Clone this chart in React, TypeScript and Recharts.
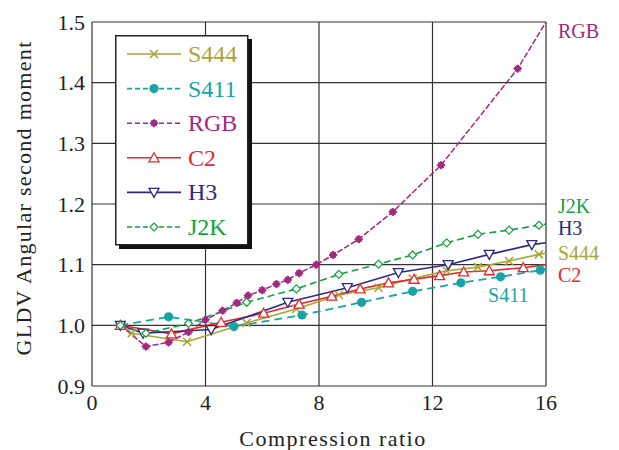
import React from 'react';
import { LineChart, Line, XAxis, YAxis, CartesianGrid, Legend, ReferenceDot } from 'recharts';

// axis ticks
const xTicks = [0, 4, 8, 12, 16];
const yTicks = [0.9, 1.0, 1.1, 1.2, 1.3, 1.4, 1.5];

// series values (x = compression ratio)
const s444X = [1, 1.4, 3.35, 5.45, 7.2, 8.7, 10.1, 11.3, 12.5, 13.6, 14.7, 15.75, 16];
const s444Y = [1.0, 0.987, 0.973, 1.004, 1.027, 1.05, 1.062, 1.077, 1.09, 1.096, 1.106, 1.117, 1.119];

const s411X = [1, 2.7, 5.0, 7.4, 9.5, 11.3, 13.0, 14.4, 15.8, 16];
const s411Y = [1.0, 1.014, 0.998, 1.017, 1.038, 1.056, 1.07, 1.08, 1.091, 1.093];

const rgbX = [1, 1.9, 2.7, 3.4, 4.0, 4.6, 5.1, 5.5, 6.0, 6.5, 6.9, 7.3, 7.9, 8.5, 9.4, 10.6, 12.3, 15.0, 16];
const rgbY = [1.0, 0.965, 0.972, 0.989, 1.009, 1.024, 1.037, 1.049, 1.058, 1.068, 1.075, 1.086, 1.1, 1.116, 1.142, 1.187, 1.264, 1.423, 1.5];

const c2X = [1, 2.8, 4.55, 6.05, 7.3, 8.45, 9.45, 10.45, 11.35, 12.25, 13.1, 14.0, 15.2, 16];
const c2Y = [1.0, 0.986, 1.005, 1.02, 1.035, 1.048, 1.06, 1.07, 1.076, 1.082, 1.088, 1.09, 1.095, 1.1];

const h3X = [1, 1.8, 4.2, 6.9, 9.0, 10.8, 12.55, 14.0, 15.5, 16];
const h3Y = [1.0, 0.987, 0.993, 1.038, 1.062, 1.087, 1.1, 1.117, 1.133, 1.136];

const j2kX = [1, 1.9, 3.4, 5.45, 7.2, 8.7, 10.1, 11.3, 12.5, 13.6, 14.7, 15.75, 16];
const j2kY = [1.0, 0.987, 1.003, 1.038, 1.06, 1.084, 1.101, 1.116, 1.136, 1.15, 1.157, 1.165, 1.167];

// text notes beside the curves
const noteNames = ['RGB', 'J2K', 'H3', 'S444', 'C2', 'S411'];
const noteX = [16.42, 16.42, 16.42, 16.42, 16.42, 13.96];
const noteY = [1.485, 1.197, 1.16, 1.12, 1.083, 1.05];

const FONT = "'Liberation Serif', 'Times New Roman', 'DejaVu Serif', serif";

const zip = (xs: number[], ys: number[]) => xs.map((x, i) => ({ x, y: ys[i] }));

const series = [
  { name: 'S444', color: '#aaa535', dash: undefined, width: 1.6, marker: 'x', data: zip(s444X, s444Y) },
  { name: 'S411', color: '#1aa3a6', dash: '8 5', width: 1.8, marker: 'circle', data: zip(s411X, s411Y) },
  { name: 'RGB', color: '#a2297f', dash: '6 2', width: 1.5, marker: 'star', data: zip(rgbX, rgbY) },
  { name: 'C2', color: '#e6282c', dash: undefined, width: 1.6, marker: 'triUp', data: zip(c2X, c2Y) },
  { name: 'H3', color: '#2d2a84', dash: undefined, width: 1.6, marker: 'triDown', data: zip(h3X, h3Y) },
  { name: 'J2K', color: '#15a03e', dash: '7 4', width: 1.6, marker: 'diamond', data: zip(j2kX, j2kY) },
];

function Marker({ kind, cx, cy, color }: { kind: string; cx: number; cy: number; color: string }) {
  switch (kind) {
    case 'x':
      return (
        <g stroke={color} strokeWidth={1.6}>
          <line x1={cx - 4} y1={cy - 4} x2={cx + 4} y2={cy + 4} />
          <line x1={cx - 4} y1={cy + 4} x2={cx + 4} y2={cy - 4} />
        </g>
      );
    case 'circle':
      return <circle cx={cx} cy={cy} r={4.6} fill={color} />;
    case 'star':
      return (
        <g fill={color} stroke={color} strokeWidth={1}>
          <polygon points={`${cx},${cy - 4} ${cx + 4},${cy} ${cx},${cy + 4} ${cx - 4},${cy}`} />
          <line x1={cx - 3} y1={cy - 3} x2={cx + 3} y2={cy + 3} />
          <line x1={cx - 3} y1={cy + 3} x2={cx + 3} y2={cy - 3} />
        </g>
      );
    case 'triUp':
      return <polygon points={`${cx},${cy - 5} ${cx + 5},${cy + 4} ${cx - 5},${cy + 4}`} fill="#fff" stroke={color} strokeWidth={1.3} />;
    case 'triDown':
      return <polygon points={`${cx},${cy + 5} ${cx + 5},${cy - 4} ${cx - 5},${cy - 4}`} fill="#fff" stroke={color} strokeWidth={1.3} />;
    default:
      return <polygon points={`${cx},${cy - 4} ${cx + 4},${cy} ${cx},${cy + 4} ${cx - 4},${cy}`} fill="#fff" stroke={color} strokeWidth={1.2} />;
  }
}

const makeDot = (kind: string, color: string, name: string) => (props: any) => {
  const { cx, cy, index, payload } = props;
  if (payload.x >= 15.95 || cx == null) return <g key={`${name}-${index}`} />;
  return (
    <g key={`${name}-${index}`}>
      <Marker kind={kind} cx={cx} cy={cy} color={color} />
    </g>
  );
};

function LegendBox() {
  return (
    <svg width={140} height={218} style={{ display: 'block' }}>
      <rect x={4} y={4} width={133} height={210} fill="#111" />
      <rect x={0.75} y={0.75} width={132} height={209} fill="#fff" stroke="#222" strokeWidth={1.5} />
      {series.map((s, i) => {
        const cy = 19 + i * 34.6;
        return (
          <g key={s.name}>
            <line x1={12} x2={66} y1={cy} y2={cy} stroke={s.color} strokeWidth={s.width} strokeDasharray={s.dash ? '5 3' : undefined} />
            <Marker kind={s.marker} cx={39} cy={cy} color={s.color} />
            <text x={73} y={cy + 8} fill={s.color} fontSize={24} style={{ fontFamily: FONT }}>{s.name}</text>
          </g>
        );
      })}
    </svg>
  );
}

export default function App() {
  return (
    <div style={{ position: 'absolute', left: 0, top: 0, background: '#fff', fontFamily: FONT }}>
      <LineChart width={619} height={450} margin={{ top: 22, right: 73, bottom: 4, left: 0 }}>
        <CartesianGrid stroke="#333" strokeWidth={1.2} horizontalValues={yTicks} verticalValues={xTicks} />
        <XAxis
          dataKey="x"
          type="number"
          domain={[0, 16]}
          ticks={xTicks}
          allowDuplicatedCategory={false}
          height={60}
          axisLine={false}
          tickLine={false}
          tickSize={0}
          tickMargin={8}
          tick={{ fill: '#222', fontSize: 22, style: { fontFamily: FONT } }}
          label={(p: any) => {
            const vb = p.viewBox;
            return (
              <text x={vb.x + vb.width / 2 + 14} y={446} textAnchor="middle" fill="#222" fontSize={22} letterSpacing={1.5} style={{ fontFamily: FONT }}>
                Compression ratio
              </text>
            );
          }}
        />
        <YAxis
          dataKey="y"
          type="number"
          domain={[0.9, 1.5]}
          ticks={yTicks}
          width={92}
          axisLine={false}
          tickLine={false}
          tickSize={0}
          tickMargin={7}
          tickFormatter={(v: number) => v.toFixed(1)}
          tick={{ fill: '#222', fontSize: 22, style: { fontFamily: FONT } }}
          label={() => (
            <text x={31} y={198} transform="rotate(-90 31 198)" textAnchor="middle" fill="#222" fontSize={22} letterSpacing={1.3} style={{ fontFamily: FONT }}>
              GLDV Angular second moment
            </text>
          )}
        />
        <Legend
          layout="vertical"
          align="center"
          verticalAlign="middle"
          wrapperStyle={{ left: 115, top: 35, width: 140, height: 218 }}
          content={() => <LegendBox />}
        />
        {series.map((s) => (
          <Line
            key={s.name}
            data={s.data}
            dataKey="y"
            name={s.name}
            type="linear"
            stroke={s.color}
            strokeWidth={s.width}
            strokeDasharray={s.dash}
            dot={makeDot(s.marker, s.color, s.name)}
            activeDot={false}
            isAnimationActive={false}
          />
        ))}
        {noteNames.map((n, i) => {
          const col = series.find((s) => s.name === n)!.color;
          return (
            <ReferenceDot
              key={n}
              x={noteX[i]}
              y={noteY[i]}
              r={0}
              ifOverflow="visible"
              stroke="none"
              fill="none"
              label={(p: any) => (
                <text x={p.viewBox.x} y={p.viewBox.y + 7} fill={col} fontSize={20} style={{ fontFamily: FONT }}>
                  {n}
                </text>
              )}
            />
          );
        })}
      </LineChart>
    </div>
  );
}
